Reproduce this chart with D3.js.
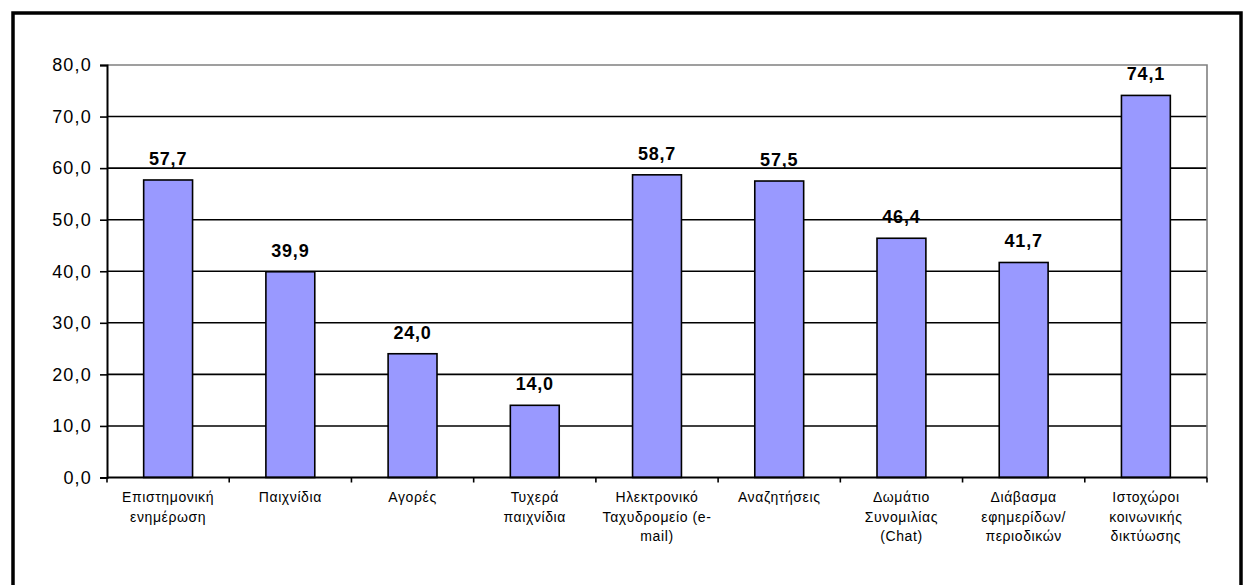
<!DOCTYPE html>
<html>
<head>
<meta charset="utf-8">
<script src="https://cdn.jsdelivr.net/npm/d3@7"></script>
<style>
  html, body { margin: 0; padding: 0; background: #fff; }
  svg { display: block; }
</style>
</head>
<body>
<svg id="chart" width="1245" height="585"></svg>
<script>
// Category labels (each array is one wrapped line set)
const categories = [
  ["Επιστημονική", "ενημέρωση"],
  ["Παιχνίδια"],
  ["Αγορές"],
  ["Τυχερά", "παιχνίδια"],
  ["Ηλεκτρονικό", "Ταχυδρομείο (e-", "mail)"],
  ["Αναζητήσεις"],
  ["Δωμάτιο", "Συνομιλίας", "(Chat)"],
  ["Διάβασμα", "εφημερίδων/", "περιοδικών"],
  ["Ιστοχώροι", "κοινωνικής", "δικτύωσης"]
];
const values = [57.7, 39.9, 24.0, 14.0, 58.7, 57.5, 46.4, 41.7, 74.1];
const yTicks = [0, 10, 20, 30, 40, 50, 60, 70, 80];

const svg = d3.select("#chart");
const fmt = v => v.toFixed(1).replace(".", ",");
const FONT = "Arial, 'Liberation Sans', sans-serif";

// Outer chart frame
svg.append("rect")
  .attr("x", 13).attr("y", 13)
  .attr("width", 1228).attr("height", 600)
  .attr("fill", "none").attr("stroke", "#000").attr("stroke-width", 3.5);

const plot = { left: 107, right: 1207, top: 65, bottom: 477.5 };

const x = d3.scaleBand()
  .domain(d3.range(categories.length))
  .range([plot.left, plot.right])
  .paddingInner(0.6).paddingOuter(0.3);

const y = d3.scaleLinear().domain([0, 80]).range([plot.bottom, plot.top]);

// Horizontal gridlines
svg.append("g").selectAll("line")
  .data(yTicks.filter(t => t > 0 && t < 80))
  .join("line")
  .attr("x1", plot.left).attr("x2", plot.right)
  .attr("y1", d => y(d)).attr("y2", d => y(d))
  .attr("stroke", "#000").attr("stroke-width", 1.6);

// Plot area border (top and right in grey)
svg.append("path")
  .attr("d", `M${plot.left},${y(80)}H${plot.right}V${plot.bottom}`)
  .attr("fill", "none").attr("stroke", "#808080").attr("stroke-width", 1.6);

// Bars
svg.append("g").selectAll("rect")
  .data(values)
  .join("rect")
  .attr("x", (d, i) => x(i))
  .attr("y", d => y(d))
  .attr("width", x.bandwidth())
  .attr("height", d => y(0) - y(d))
  .attr("fill", "#9999ff")
  .attr("stroke", "#000").attr("stroke-width", 1.6);

// Value labels
svg.append("g").selectAll("text")
  .data(values)
  .join("text")
  .attr("x", (d, i) => x(i) + x.bandwidth() / 2)
  .attr("y", d => y(d) - 15)
  .attr("text-anchor", "middle")
  .attr("font-family", FONT)
  .attr("font-weight", "bold")
  .attr("font-size", 18)
  .attr("letter-spacing", 0.8)
  .text(d => fmt(d));

// Y axis
const yAxis = d3.axisLeft(y).tickValues(yTicks).tickFormat(fmt).tickSize(7).tickPadding(8);
const gy = svg.append("g").attr("transform", `translate(${plot.left},0)`).call(yAxis);
gy.select(".domain").attr("stroke", "#000").attr("stroke-width", 2);
gy.selectAll(".tick line").attr("stroke", "#000").attr("stroke-width", 1.6);
gy.selectAll(".tick text")
  .attr("font-family", FONT)
  .attr("font-size", 18).attr("letter-spacing", 1.2).attr("fill", "#000");

// X axis baseline with ticks at category boundaries
const boundaries = d3.range(categories.length + 1).map(i => plot.left + i * (plot.right - plot.left) / categories.length);
svg.append("line")
  .attr("x1", plot.left).attr("x2", plot.right)
  .attr("y1", plot.bottom).attr("y2", plot.bottom)
  .attr("stroke", "#000").attr("stroke-width", 2);
svg.append("g").selectAll("line")
  .data(boundaries)
  .join("line")
  .attr("x1", d => d).attr("x2", d => d)
  .attr("y1", plot.bottom).attr("y2", plot.bottom + 5)
  .attr("stroke", "#000").attr("stroke-width", 1.6);

// Category labels
const catG = svg.append("g").selectAll("text")
  .data(categories)
  .join("text")
  .attr("text-anchor", "middle")
  .attr("font-family", FONT)
  .attr("font-size", 14)
  .attr("letter-spacing", 0.6)
  .attr("fill", "#000");
catG.each(function(lines, i) {
  const cx = x(i) + x.bandwidth() / 2;
  d3.select(this).selectAll("tspan")
    .data(lines)
    .join("tspan")
    .attr("x", cx)
    .attr("y", (d, j) => 502 + j * 19.5)
    .text(d => d);
});
</script>
</body>
</html>
